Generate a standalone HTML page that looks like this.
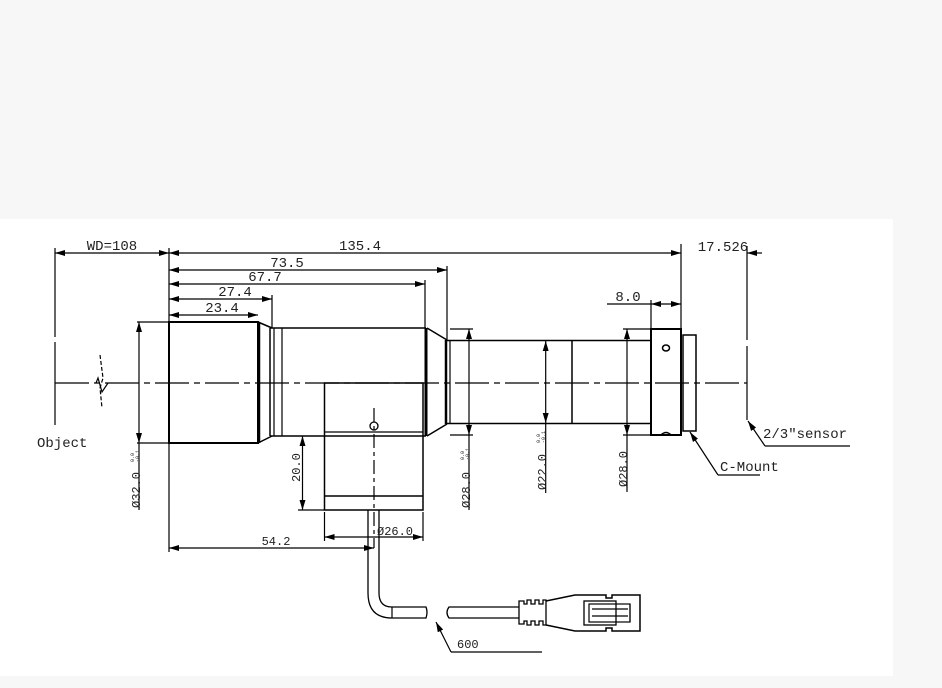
<!DOCTYPE html>
<html><head><meta charset="utf-8"><style>
html,body{margin:0;padding:0;background:#f7f7f7;}
svg{display:block;}
text{font-family:"Liberation Mono",monospace;fill:#222;}
</style></head><body>
<svg width="942" height="688" viewBox="0 0 942 688" xmlns="http://www.w3.org/2000/svg">
<defs>
<marker id="a" viewBox="0 0 10 6" refX="10" refY="3" markerWidth="10" markerHeight="6" orient="auto-start-reverse" markerUnits="userSpaceOnUse"><path d="M0,0 L10,3 L0,6 z" fill="#000"/></marker>
</defs>
<rect x="0" y="0" width="942" height="688" fill="#f7f7f7"/>
<rect x="0" y="219" width="893" height="457" fill="#fff"/>
<g stroke="#000" stroke-width="1.2" fill="none">
<line x1="55" y1="383" x2="747" y2="383" stroke-dasharray="34,5,6,5"/>
<line x1="55" y1="248" x2="55" y2="337"/><line x1="55" y1="342" x2="55" y2="425"/>
<path d="M100,355 L103,378 L100,388 L102,408" stroke-dasharray="4,2"/>
<path d="M96,383 L98,378 L102,392 L108,383"/>
<line x1="55" y1="253" x2="169" y2="253" marker-start="url(#a)" marker-end="url(#a)"/>
<line x1="169" y1="253" x2="681" y2="253" marker-start="url(#a)" marker-end="url(#a)"/>
<line x1="169" y1="248" x2="169" y2="552"/>
<line x1="169" y1="270" x2="447" y2="270" marker-start="url(#a)" marker-end="url(#a)"/>
<line x1="447" y1="266" x2="447" y2="340"/>
<line x1="169" y1="284" x2="425" y2="284" marker-start="url(#a)" marker-end="url(#a)"/>
<line x1="425" y1="280" x2="425" y2="328"/>
<line x1="169" y1="299" x2="272" y2="299" marker-start="url(#a)" marker-end="url(#a)"/>
<line x1="272" y1="295" x2="272" y2="328"/>
<line x1="169" y1="315" x2="258" y2="315" marker-start="url(#a)" marker-end="url(#a)"/>
<line x1="681" y1="244" x2="681" y2="329"/>
<line x1="762" y1="253" x2="747" y2="253" marker-end="url(#a)"/>
<line x1="747" y1="246" x2="747" y2="340"/><line x1="747" y1="346" x2="747" y2="420"/>
<line x1="607" y1="304" x2="651" y2="304"/>
<line x1="651" y1="304" x2="681" y2="304" marker-start="url(#a)" marker-end="url(#a)"/>
<line x1="651" y1="300" x2="651" y2="329"/>
<rect x="169" y="322" width="89" height="121" stroke-width="2"/>
<line x1="259" y1="322" x2="259" y2="443" stroke-width="2.5"/>
<path d="M258,322 L272,328 M258,443 L272,436" stroke-width="1.5"/>
<line x1="270" y1="328" x2="270" y2="436" stroke-width="1.5"/>
<line x1="274" y1="328" x2="274" y2="436"/>
<line x1="282" y1="328" x2="282" y2="436"/>
<line x1="270" y1="328" x2="426" y2="328" stroke-width="1.5"/>
<line x1="270" y1="436" x2="426" y2="436" stroke-width="1.5"/>
<line x1="426" y1="328" x2="426" y2="436" stroke-width="3"/>
<path d="M427,328 L447,340 M427,436 L447,424" stroke-width="1.5"/>
<line x1="446" y1="340" x2="446" y2="424" stroke-width="2.5"/>
<line x1="450" y1="340" x2="450" y2="424"/>
<line x1="446" y1="340.5" x2="651" y2="340.5" stroke-width="1.5"/>
<line x1="446" y1="423.5" x2="651" y2="423.5" stroke-width="1.5"/>
<line x1="572" y1="340" x2="572" y2="424" stroke-width="1.5"/>
<rect x="651" y="329" width="30" height="106" stroke-width="2"/>
<ellipse cx="666" cy="348" rx="3.5" ry="3" stroke-width="1.5"/>
<path d="M661,435 Q666,430 671,435" stroke-width="1.5"/>
<rect x="683" y="335" width="13" height="96" stroke-width="1.5"/>
<rect x="324.5" y="383" width="98.5" height="127" stroke-width="1.5"/>
<line x1="324" y1="432" x2="423" y2="432"/>
<line x1="324" y1="496" x2="423" y2="496" stroke-width="1.5"/>
<circle cx="374" cy="426" r="4" stroke-width="1.3"/>
<line x1="374" y1="408" x2="374" y2="548" stroke-dasharray="14,4,4,4"/>
<line x1="302.5" y1="436" x2="302.5" y2="510" marker-start="url(#a)" marker-end="url(#a)"/>
<line x1="298" y1="510" x2="324" y2="510"/>
<line x1="324.5" y1="512" x2="324.5" y2="541"/><line x1="423" y1="512" x2="423" y2="541"/>
<line x1="324.5" y1="537" x2="423" y2="537" marker-start="url(#a)" marker-end="url(#a)"/>
<line x1="169" y1="548" x2="374" y2="548" marker-start="url(#a)" marker-end="url(#a)"/>
<path d="M368,510 L368,593 Q368,618 392,618 L426,618 Q428,612 426,607 L392,607 Q379,607 379,593 L379,510" stroke-width="1.3"/>
<line x1="392" y1="607" x2="392" y2="618"/>
<path d="M519,607 L449,607 Q445,612.5 449,618 L519,618" stroke-width="1.3"/>
<path d="M519,601 L524,601 L524,604 L527,604 L527,600 L531,600 L531,604 L535,604 L535,600 L539,600 L539,604 L543,604 L543,600 L546,600 L546,625 L543,625 L543,621 L539,621 L539,625 L535,625 L535,621 L531,621 L531,625 L527,625 L527,621 L524,621 L524,624 L519,624 Z" stroke-width="1.3"/>
<path d="M546,601 L575,595 L606,595 L606,598 L612,598 L612,595 L640,595 L640,631 L612,631 L612,628 L606,628 L606,631 L575,631 L546,625" stroke-width="1.5"/>
<rect x="584" y="601" width="32" height="24" stroke-width="1.3"/>
<rect x="589" y="604" width="41" height="18" stroke-width="1.2"/>
<line x1="592" y1="609" x2="628" y2="609"/><line x1="592" y1="616" x2="628" y2="616"/>
<line x1="630" y1="604" x2="630" y2="622"/>
<line x1="137" y1="322" x2="169" y2="322"/><line x1="137" y1="443" x2="169" y2="443"/>
<line x1="139" y1="322" x2="139" y2="443" marker-start="url(#a)" marker-end="url(#a)"/>
<line x1="139" y1="443" x2="139" y2="510"/>
<line x1="450" y1="329" x2="473" y2="329"/><line x1="450" y1="435" x2="473" y2="435"/>
<line x1="469" y1="329" x2="469" y2="435" marker-start="url(#a)" marker-end="url(#a)"/>
<line x1="469" y1="435" x2="469" y2="510"/>
<line x1="545.7" y1="341" x2="545.7" y2="423" marker-start="url(#a)" marker-end="url(#a)"/>
<line x1="545.7" y1="423" x2="545.7" y2="493"/>
<line x1="623" y1="329" x2="651" y2="329"/><line x1="623" y1="435" x2="651" y2="435"/>
<line x1="627" y1="329" x2="627" y2="435" marker-start="url(#a)" marker-end="url(#a)"/>
<line x1="627" y1="435" x2="627" y2="492"/>
<path d="M765,446 L850,446"/><line x1="765" y1="446" x2="748" y2="421" marker-end="url(#a)"/>
<path d="M718,475 L760,475"/><line x1="718" y1="475" x2="690" y2="432" marker-end="url(#a)"/>
<path d="M451,652 L542,652"/><line x1="451" y1="652" x2="436" y2="622" marker-end="url(#a)"/>
</g>
<g font-size="14">
<text x="112" y="250" text-anchor="middle">WD=108</text>
<text x="360" y="250" text-anchor="middle">135.4</text>
<text x="287" y="267" text-anchor="middle">73.5</text>
<text x="265" y="281" text-anchor="middle">67.7</text>
<text x="235" y="296" text-anchor="middle">27.4</text>
<text x="222" y="312" text-anchor="middle">23.4</text>
<text x="723" y="251" text-anchor="middle">17.526</text>
<text x="628" y="301" text-anchor="middle">8.0</text>
<text x="37" y="447">Object</text>
<text x="763" y="438">2/3″sensor</text>
<text x="720" y="471">C-Mount</text>
</g>
<g font-size="12">
<text x="276" y="545" text-anchor="middle">54.2</text>
<text x="377" y="535">Ø26.0</text>
<text x="457" y="648">600</text>
<text transform="translate(300,482) rotate(-90)">20.0</text>
<text transform="translate(140,508) rotate(-90)">Ø32.0</text>
<text transform="translate(470,508) rotate(-90)">Ø28.0</text>
<text transform="translate(546,490) rotate(-90)">Ø22.0</text>
<text transform="translate(627,487) rotate(-90)">Ø28.0</text>
</g>
<g font-size="5">
<text transform="translate(134,462) rotate(-90)">0.0</text><text transform="translate(139,462) rotate(-90)">-0.1</text>
<text transform="translate(464,460) rotate(-90)">0.0</text><text transform="translate(469,460) rotate(-90)">-0.1</text>
<text transform="translate(540,443) rotate(-90)">0.0</text><text transform="translate(545,443) rotate(-90)">-0.1</text>
</g>
</svg>
</body></html>
